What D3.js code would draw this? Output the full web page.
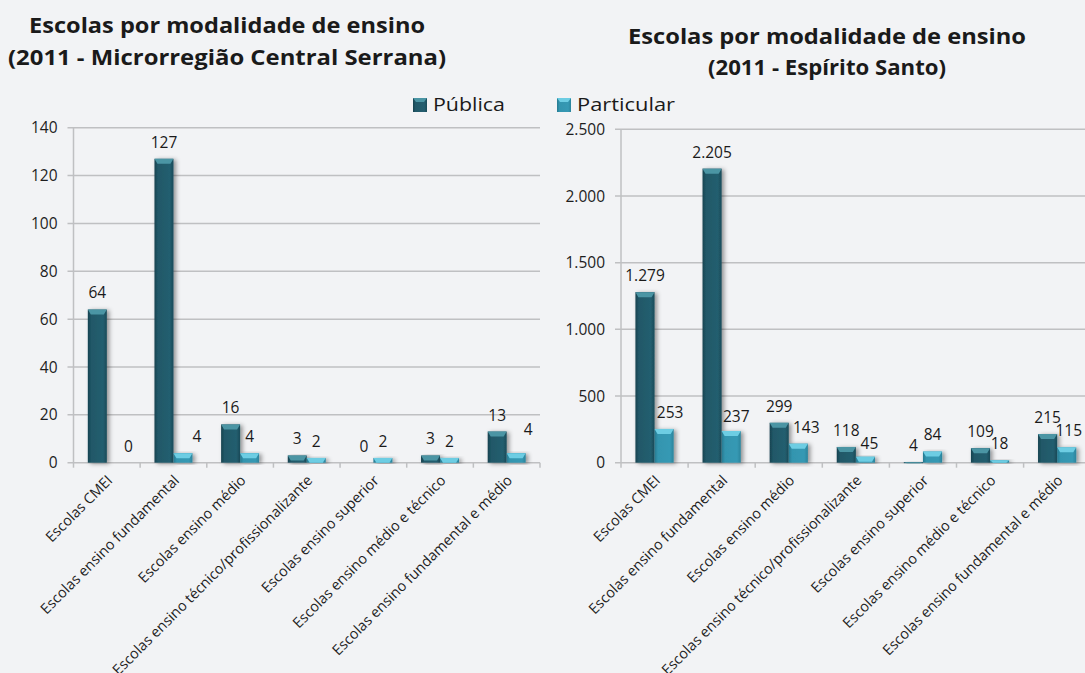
<!DOCTYPE html>
<html>
<head>
<meta charset="utf-8">
<script src="https://cdn.jsdelivr.net/npm/d3@7"></script>
<style>
  html, body { margin: 0; padding: 0; background: #f2f3f5; }
  svg { display: block; font-family: "Open Sans", sans-serif; }
</style>
</head>
<body>
<div id="wrapper"></div>
<script>
// DATA
const categories = [
  "Escolas CMEI",
  "Escolas ensino fundamental",
  "Escolas ensino médio",
  "Escolas ensino técnico/profissionalizante",
  "Escolas ensino superior",
  "Escolas ensino médio e técnico",
  "Escolas ensino fundamental e médio"
];
const seriesNames = ["Pública", "Particular"];

const serranaPublica = [64, 127, 16, 3, 0, 3, 13];
const serranaParticular = [0, 4, 4, 2, 2, 2, 4];
const serranaTicks = [0, 20, 40, 60, 80, 100, 120, 140];

const esPublica = [1279, 2205, 299, 118, 4, 109, 215];
const esParticular = [253, 237, 143, 45, 84, 18, 115];
const esTicks = [0, 500, 1000, 1500, 2000, 2500];

// label nudges (Excel moved a few labels by hand)
const serranaNudge = [[12, 0], [14, 0], [0, 0], [0, 0], [0, 0], [0, 0], [12, -7]];
const esNudge = [[6, 0], [5, 2], [8, 0], [4, 3], [0, 0], [0, 0], [2, 0]];

const W = 1085, H = 673;
const fmtBR = d3.formatLocale({decimal: ",", thousands: ".", grouping: [3], currency: ["R$", ""]}).format(",d");

const svg = d3.select("#wrapper").append("svg")
  .attr("width", W).attr("height", H);

svg.append("rect").attr("width", W).attr("height", H).attr("fill", "#f2f3f5");

//DEFS
const defs = svg.append("defs");
const shadow = defs.append("filter").attr("id", "shadow")
  .attr("x", "-50%").attr("y", "-20%").attr("width", "200%").attr("height", "140%");
shadow.append("feDropShadow")
  .attr("dx", 2.5).attr("dy", 1).attr("stdDeviation", 2)
  .attr("flood-color", "#000").attr("flood-opacity", 0.4);

function bodyGradient(id, stops) {
  const g = defs.append("linearGradient").attr("id", id)
    .attr("x1", "0%").attr("x2", "100%").attr("y1", "0%").attr("y2", "0%");
  stops.forEach(s => g.append("stop").attr("offset", s[0]).attr("stop-color", s[1]));
}
bodyGradient("gPub", [["0%", "#17424f"], ["18%", "#215868"], ["80%", "#245e6f"], ["100%", "#1a4b59"]]);
bodyGradient("gPart", [["0%", "#267a91"], ["18%", "#3395af"], ["80%", "#3699b4"], ["100%", "#2b849c"]]);

const colors = [
  {body: "url(#gPub)", cap: "#4b95a4"},
  {body: "url(#gPart)", cap: "#6dcde3"}
];

//TITLES
function title(lines, cx, baselines, lengths) {
  lines.forEach((t, i) => {
    svg.append("text")
      .attr("x", cx).attr("y", baselines[i])
      .attr("text-anchor", "middle")
      .attr("font-size", 22).attr("font-weight", "bold").attr("fill", "#1a1a1a")
      .attr("textLength", lengths[i]).attr("lengthAdjust", "spacingAndGlyphs")
      .text(t);
  });
}
title(["Escolas por modalidade de ensino", "(2011 - Microrregião Central Serrana)"], 227, [33, 65], [396, 438]);
title(["Escolas por modalidade de ensino", "(2011 - Espírito Santo)"], 827, [44, 75], [398, 238]);

//LEGEND
const legendX = [413, 557];
const legendW = [72, 98];
seriesNames.forEach((name, i) => {
  const g = svg.append("g").attr("transform", `translate(${legendX[i]},98)`);
  g.append("rect").attr("width", 14).attr("height", 14).attr("fill", colors[i].body);
  g.append("path").attr("d", "M0,0H14L11,4H3Z").attr("fill", colors[i].cap);
  g.append("text").attr("x", 20).attr("y", 13)
    .attr("font-size", 19).attr("fill", "#1a1a1a")
    .attr("textLength", legendW[i]).attr("lengthAdjust", "spacingAndGlyphs")
    .text(name);
});

//CHARTS
function drawChart(cfg) {
  const g = svg.append("g");

  const x = d3.scaleBand().domain(categories).range([cfg.x0, cfg.x1]).padding(0);
  const groupW = x.bandwidth() * 0.57;
  const xs = d3.scaleBand().domain(seriesNames).range([0, groupW]).padding(0);
  const y = d3.scaleLinear().domain([0, d3.max(cfg.ticks)]).range([cfg.y0, cfg.yTop]);

  // gridlines
  g.append("g").selectAll("line").data(cfg.ticks).join("line")
    .attr("x1", cfg.x0 - 6).attr("x2", cfg.x1)
    .attr("y1", d => y(d)).attr("y2", d => y(d))
    .attr("stroke", "#bfc0c2").attr("stroke-width", 1.5);

  // y labels
  g.append("g").selectAll("text").data(cfg.ticks).join("text")
    .attr("x", cfg.x0 - 16).attr("y", d => y(d)).attr("dy", "0.36em")
    .attr("text-anchor", "end").attr("font-size", 15.5).attr("fill", "#1e1e1e")
    .text(d => cfg.fmt(d));

  // axis line
  g.append("line")
    .attr("x1", cfg.x0).attr("x2", cfg.x0).attr("y1", cfg.yTop).attr("y2", cfg.y0)
    .attr("stroke", "#bfc0c2").attr("stroke-width", 1.5);

  // x ticks
  const edges = categories.map(c => x(c)).concat([cfg.x1]);
  g.append("g").selectAll("line").data(edges).join("line")
    .attr("x1", d => d).attr("x2", d => d)
    .attr("y1", cfg.y0).attr("y2", cfg.y0 + 5)
    .attr("stroke", "#bfc0c2").attr("stroke-width", 1.5);

  // bars
  const rows = [];
  categories.forEach((c, i) => {
    [cfg.pub[i], cfg.part[i]].forEach((v, s) => {
      rows.push({cat: c, i: i, s: s, value: v});
    });
  });

  const barX = d => x(d.cat) + (x.bandwidth() - groupW) / 2 + xs(seriesNames[d.s]);
  const bw = xs.bandwidth();

  const bars = g.append("g").selectAll("g").data(rows.filter(d => d.value > 0)).join("g")
    .attr("filter", "url(#shadow)");

  bars.append("rect")
    .attr("x", barX).attr("y", d => y(d.value))
    .attr("width", bw).attr("height", d => Math.max(cfg.y0 - y(d.value), 1))
    .attr("fill", d => colors[d.s].body);

  bars.append("path")
    .attr("d", d => {
      const x0 = barX(d), top = y(d.value);
      const h = Math.min(5, Math.max(cfg.y0 - top, 1));
      return `M${x0},${top}H${x0 + bw}L${x0 + bw - 3},${top + h}H${x0 + 3}Z`;
    })
    .attr("fill", d => colors[d.s].cap);

  // value labels
  g.append("g").selectAll("text").data(rows).join("text")
    .attr("x", d => barX(d) + bw / 2 + (d.s === 1 ? cfg.nudge[d.i][0] : 0))
    .attr("y", d => y(d.value) - 16.5 + (d.s === 1 ? cfg.nudge[d.i][1] : 0))
    .attr("dy", "0.35em")
    .attr("text-anchor", "middle").attr("font-size", 15.5).attr("fill", "#1a1a1a")
    .text(d => cfg.fmt(d.value));

  // category labels
  g.append("g").selectAll("text").data(categories).join("text")
    .attr("text-anchor", "end").attr("font-size", 14.5).attr("fill", "#1e1e1e")
    .attr("transform", c => `translate(${x(c) + x.bandwidth() / 2 + 3},${cfg.y0 + 15}) rotate(-45)`)
    .attr("dy", "0.35em")
    .text(c => c);
}

drawChart({
  x0: 73.5, x1: 540, yTop: 127.7, y0: 462.7,
  ticks: serranaTicks, pub: serranaPublica, part: serranaParticular,
  nudge: serranaNudge, fmt: d3.format("d")
});

drawChart({
  x0: 621, x1: 1090.7, yTop: 129.3, y0: 462.7,
  ticks: esTicks, pub: esPublica, part: esParticular,
  nudge: esNudge, fmt: fmtBR
});
</script>
</body>
</html>
